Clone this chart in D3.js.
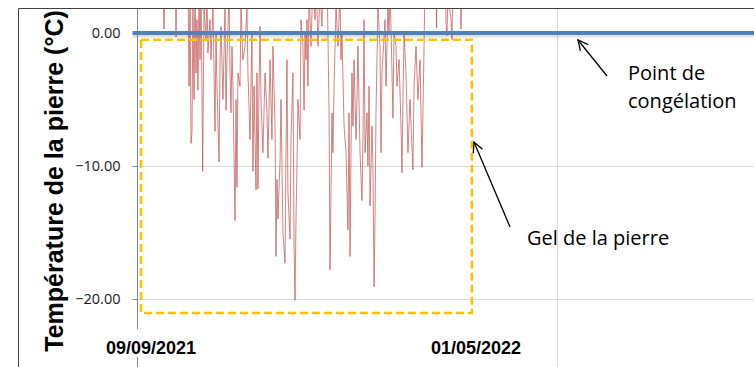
<!DOCTYPE html>
<html>
<head>
<meta charset="utf-8">
<script src="https://cdn.jsdelivr.net/npm/d3@7"></script>
<style>
  body { margin: 0; background: #fff; }
  svg { display: block; }
</style>
</head>
<body>
<div id="chart"></div>
<script>
// Stone temperature: day offsets from 09/09/2021 and the value (°C)
// values above ~2 °C run off the top of the plot, so they are only rough
const startDay = Date.UTC(2021, 8, 9);
const dayOffsets = [
  -7.9, -0.7, 6.5, 8.6, 9.4, 10.1, 17.3, 18.0, 18.7, 26.6, 27.4, 28.1, 28.8, 29.5, 30.2, 31.0,
  31.7, 32.4, 33.1, 33.8, 34.6, 35.3, 36.0, 37.2, 38.2, 39.6, 40.3, 41.0, 42.5, 43.2, 44.6, 46.1,
  46.8, 47.5, 49.0, 49.7, 50.4, 51.8, 53.3, 54.0, 54.7, 56.2, 56.9, 57.6, 58.3, 59.0, 60.5, 61.2,
  61.9, 62.6, 64.1, 64.8, 66.2, 67.7, 69.1, 69.8, 71.3, 72.7, 73.4, 74.2, 75.6, 76.3, 77.0, 77.8,
  78.5, 79.2, 80.6, 82.1, 83.5, 84.2, 85.7, 87.1, 87.8, 89.3, 90.0, 90.7, 91.4, 92.9, 93.6, 95.0,
  96.5, 97.2, 97.9, 98.6, 100.1, 100.8, 102.2, 103.0, 103.7, 104.4, 105.1, 105.8, 107.3, 108.0, 109.4, 110.2,
  110.9, 111.6, 112.3, 113.0, 113.8, 115.2, 116.6, 118.1, 118.8, 120.2, 121.7, 123.1, 123.8, 125.3, 126.7, 128.2,
  128.9, 129.6, 130.3, 131.0, 131.8, 133.2, 134.6, 136.1, 136.8, 137.5, 139.0, 140.4, 141.8, 142.6, 143.3, 144.0,
  144.7, 145.4, 146.2, 147.6, 148.3, 149.0, 150.5, 151.9, 152.6, 153.4, 154.1, 155.5, 156.2, 157.0, 157.7, 159.1,
  159.8, 160.6, 161.3, 162.0, 162.7, 163.4, 164.9, 165.6, 166.3, 168.5, 169.2, 170.6, 171.4, 172.1, 172.8, 174.2,
  175.0, 176.4, 177.1, 178.6, 180.0, 180.7, 181.4, 182.2, 183.6, 184.3, 185.0, 186.5, 188.6, 189.4, 190.8, 192.2,
  193.7, 195.1, 195.8, 196.6, 197.3, 205.2, 205.6, 205.9, 211.7, 212.4, 213.1, 213.8, 216.0, 216.7, 217.4, 222.5,
  223.2, 223.9, 229.7
];
const stoneTemps = [
  6, 5, 7, 3, 0.3, 4, 6, -0.3, 5, 4, -4, 3, -8.3, -7.5, 2, -5,
  4, -3, 1, -4.3, 3, -2, 4, -10.4, 2, -0.5, 3, -1.5, 1, -2, 2, -7.4,
  0, -4, -9.7, -2, 0.5, -5, 2, -5.8, -2, 3, -3, -6, -1, -4, -14.1, -5,
  -11.6, -3, -4, 2, -2, -1, 2, -3, -8, 0, -10.4, -4, -11.8, -3, -11.7, -4,
  0.5, -5, -9, -3, -6, -9.4, -2, -8, -1, -7, -16.8, -11, -14, -9.7, -5, -15,
  -17.3, -9, -2, -12, -15.5, -8, -3, -16, -20.1, -14, -10, -5, -8, 1, -1, -5.8,
  0, -2, 1, -4, 3, -1, 4, 1, 5, -1, 3, 0.5, 4, 2, 5, -6,
  -17.8, -12, -6, -9, -4, 2, -1, 3, -2, 0, -7, -9, -14.8, -6, -16.8, -9,
  -3, -7, -2, -8, -5, -1, -9, -12.6, -8, 1, -9, -6, -10, -4, -13, -7,
  -10, -19.1, -14, -6, -2, 2, -1, -9, -3, 1, -4, 2, 0, 3, 0.5, -6.4,
  0, -1, -4, -2, -7, -10.5, -5, 0, -3, -6, -9, -5, -10.3, -4, -1, -5,
  -2, -10.1, -6, -1, 4, 3, 0.4, 4, 5, 0.8, -0.2, 3, 1, -0.5, 4, 5,
  0.3, 4, 6
];

// freezing point line (0 °C) across the whole chart
const freezeOffsets = [-13.2, 440];
const freezeTemps = [0, 0];

// frost zone highlighted by the dashed box
const gelBoxOffsets = [-7.2, 231];
const gelBoxTemps = [-0.5, -21.05];

// axes
const yTicks = [0, -10, -20];
const xLabelDates = [Date.UTC(2021, 8, 9), Date.UTC(2022, 4, 1)];
const xGridDates = [Date.UTC(2021, 7, 30), Date.UTC(2022, 5, 28)];

const toDate = off => new Date(startDay + off * 864e5);

const W = 754, H = 367;
const svg = d3.select('#chart').append('svg')
  .attr('width', W).attr('height', H)
  .style('font-family', 'Liberation Sans, Arial, sans-serif');

const x = d3.scaleUtc()
  .domain([new Date(xLabelDates[0]), new Date(xLabelDates[1])])
  .range([151, 476]);
const y = d3.scaleLinear().domain([-20, 0]).range([299, 33]);

const plotLeft = x(new Date(xGridDates[0]));
const plotTop = 9;

const defs = svg.append('defs');
defs.append('clipPath').attr('id', 'plotClip')
  .append('rect').attr('x', plotLeft - 5).attr('y', plotTop)
  .attr('width', W).attr('height', H);

// chart border
svg.append('path')
  .attr('d', `M18.5,${H} V8.5 H${W}`)
  .attr('fill', 'none').attr('stroke', '#404040').attr('stroke-width', 1);

// horizontal gridlines
svg.append('g').selectAll('line').data(yTicks).join('line')
  .attr('x1', plotLeft).attr('x2', W)
  .attr('y1', d => Math.round(y(d)) + 0.5).attr('y2', d => Math.round(y(d)) + 0.5)
  .attr('stroke', '#d9d9d9');

// vertical gridlines
svg.append('g').selectAll('line').data(xGridDates.slice(1)).join('line')
  .attr('x1', d => Math.round(x(new Date(d))) + 0.5).attr('x2', d => Math.round(x(new Date(d))) + 0.5)
  .attr('y1', plotTop).attr('y2', H)
  .attr('stroke', '#d9d9d9');

// y axis
const yAxis = svg.append('g')
  .attr('transform', `translate(${Math.round(plotLeft) + 0.5},0)`)
  .call(d3.axisLeft(y).tickValues(yTicks).tickSize(5).tickSizeOuter(0)
    .tickFormat(d => d3.format('.2f')(d)));
yAxis.select('.domain').remove();
yAxis.append('line').attr('y1', plotTop).attr('y2', H).attr('stroke', '#868686');
yAxis.selectAll('.tick line').attr('stroke', '#868686');
yAxis.selectAll('.tick text')
  .attr('x', -17)
  .style('font-family', 'Open Sans, sans-serif')
  .style('font-size', '14.5px')
  .attr('fill', '#1a1a1a');

// stone temperature series
const plot = svg.append('g').attr('clip-path', 'url(#plotClip)');
const series = dayOffsets.map((d, i) => ({ date: toDate(d), v: stoneTemps[i] }));
plot.append('path')
  .datum(series)
  .attr('fill', 'none')
  .attr('stroke', '#c0504d')
  .attr('stroke-opacity', 0.7)
  .attr('stroke-width', 1)
  .attr('d', d3.line().x(d => x(d.date)).y(d => y(d.v)));

// freezing point, with a soft shadow under it
const freeze = freezeOffsets.map((d, i) => ({ date: toDate(d), v: freezeTemps[i] }));
const freezeLine = d3.line().x(d => x(d.date)).y(d => y(d.v));
svg.append('path')
  .datum(freeze)
  .attr('fill', 'none')
  .attr('stroke', '#000')
  .attr('stroke-opacity', 0.12)
  .attr('stroke-width', 4)
  .attr('transform', 'translate(0,2.5)')
  .attr('d', freezeLine);
svg.append('path')
  .datum(freeze)
  .attr('fill', 'none')
  .attr('stroke', '#4f81bd')
  .attr('stroke-width', 4)
  .attr('d', freezeLine);

// frost box
const bx0 = x(toDate(gelBoxOffsets[0])), bx1 = x(toDate(gelBoxOffsets[1]));
const by0 = y(gelBoxTemps[0]), by1 = y(gelBoxTemps[1]);
svg.append('rect')
  .attr('x', bx0).attr('y', by0)
  .attr('width', bx1 - bx0).attr('height', by1 - by0)
  .attr('fill', 'none')
  .attr('stroke', '#ffc000')
  .attr('stroke-width', 2.5)
  .attr('stroke-dasharray', '8,4');

// date labels under the plot
const xl = svg.append('g');
xl.selectAll('rect').data(xLabelDates).join('rect')
  .attr('x', d => x(new Date(d)) - 48).attr('y', 329)
  .attr('width', 96).attr('height', 28)
  .attr('fill', '#fff');
xl.selectAll('text').data(xLabelDates).join('text')
  .attr('x', d => x(new Date(d)))
  .attr('y', 354)
  .attr('text-anchor', 'middle')
  .style('font-size', '18px')
  .style('font-weight', 'bold')
  .text(d => d3.utcFormat('%d/%m/%Y')(new Date(d)));

// y title
svg.append('text')
  .attr('transform', 'translate(63,181) rotate(-90)')
  .attr('text-anchor', 'middle')
  .style('font-size', '25px')
  .style('font-weight', 'bold')
  .text('Température de la pierre (°C)');

// annotations
const note = svg.append('g')
  .style('font-family', 'Open Sans, sans-serif')
  .style('font-size', '20px')
  .attr('fill', '#000');
note.append('text').attr('x', 628).attr('y', 80).text('Point de');
note.append('text').attr('x', 628).attr('y', 108).text('congélation');
note.append('text').attr('x', 527).attr('y', 245).text('Gel de la pierre');

defs.append('marker').attr('id', 'head')
  .attr('viewBox', '0 0 12 12').attr('refX', 1).attr('refY', 6)
  .attr('markerWidth', 12).attr('markerHeight', 12)
  .attr('markerUnits', 'userSpaceOnUse')
  .attr('orient', 'auto')
  .append('path').attr('d', 'M11,1 L1,6 L11,11')
  .attr('fill', 'none').attr('stroke', '#000').attr('stroke-width', 1.3);

const arrows = [[607, 76, 578, 40], [510, 227, 474, 142]];
note.selectAll('line').data(arrows).join('line')
  .attr('x1', d => d[2]).attr('y1', d => d[3])
  .attr('x2', d => d[0]).attr('y2', d => d[1])
  .attr('stroke', '#000').attr('stroke-width', 1.3)
  .attr('marker-start', 'url(#head)');
</script>
</body>
</html>
